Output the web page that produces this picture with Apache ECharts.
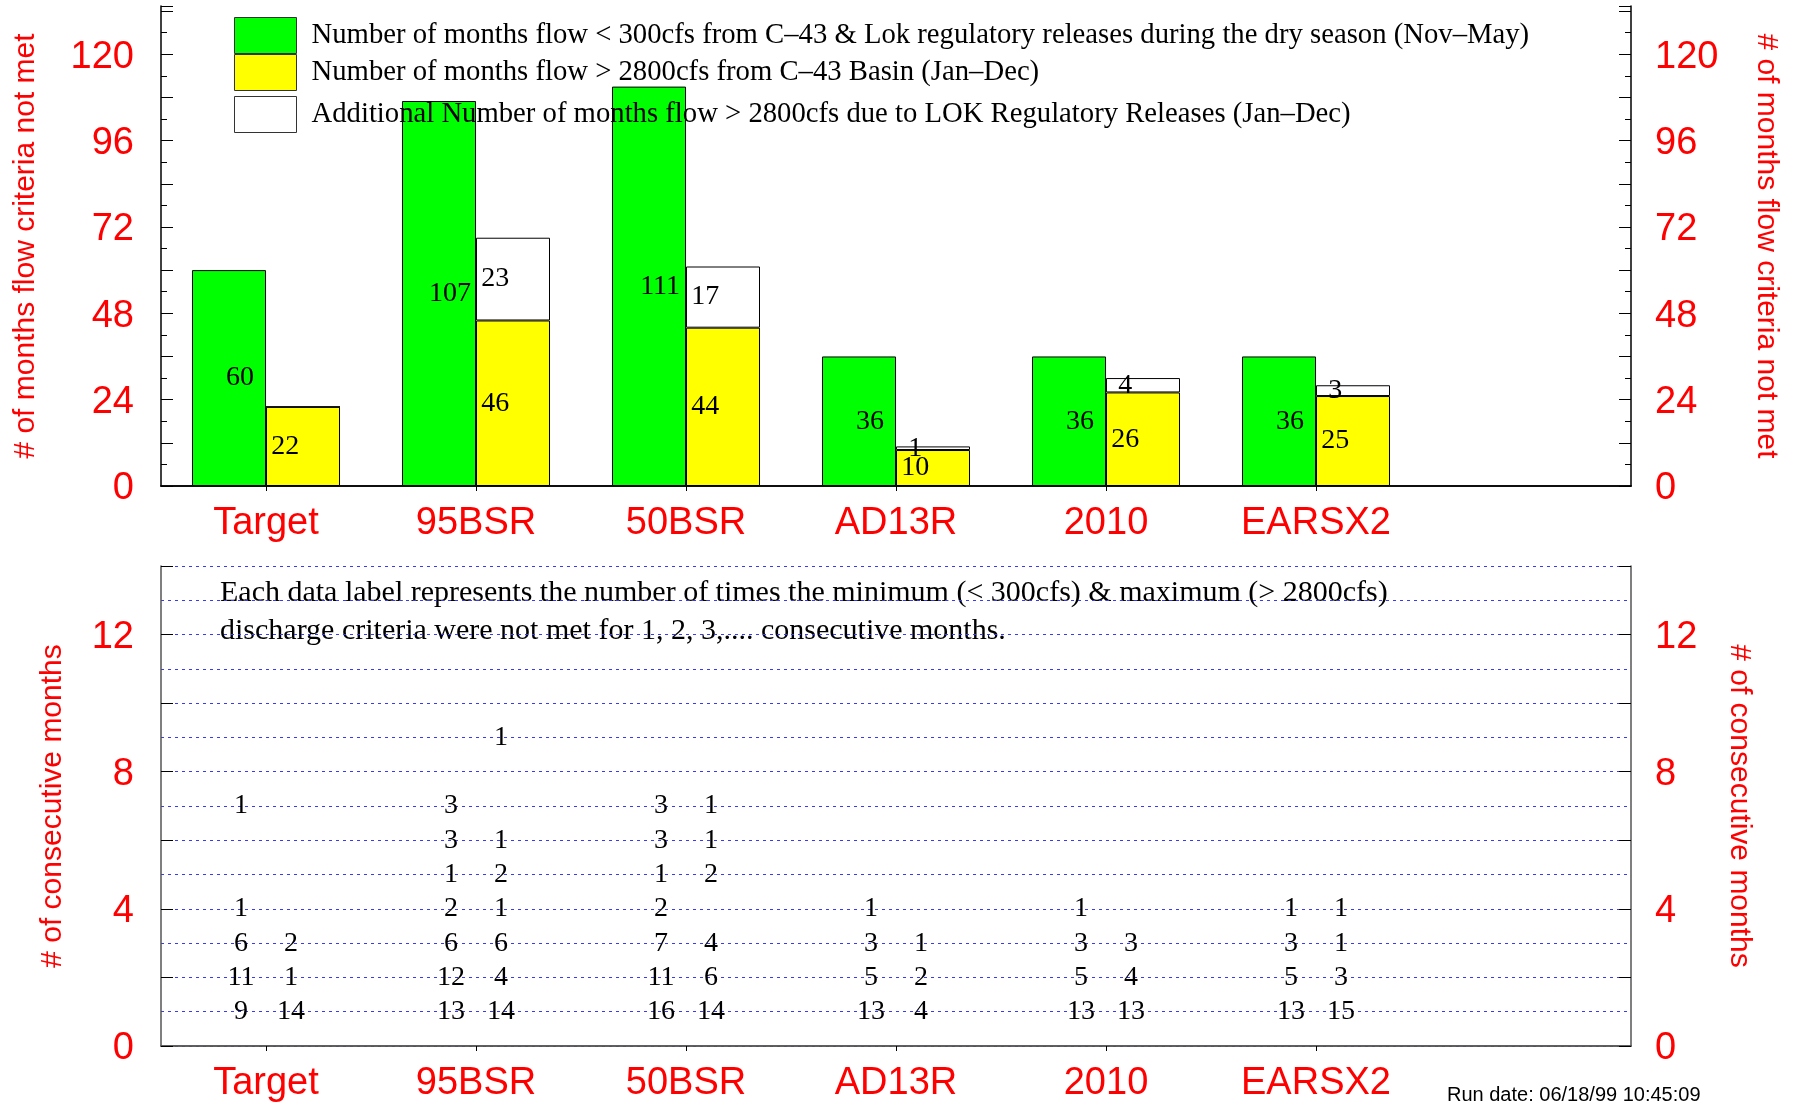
<!DOCTYPE html>
<html>
<head>
<meta charset="utf-8">
<title>Flow criteria not met</title>
<script src="https://cdn.jsdelivr.net/npm/echarts@6/dist/echarts.min.js"></script>
<style>
  html, body { margin: 0; padding: 0; background: #fff; }
  #chart { width: 1794px; height: 1102px; }
</style>
</head>
<body>
<div id="chart"></div>
<script>
// scenarios (last slot is empty on purpose)
const categories = ['Target', '95BSR', '50BSR', 'AD13R', '2010', 'EARSX2', ''];

// months flow < 300cfs during dry season
const lowFlowMonths = [60, 107, 111, 36, 36, 36];
// months flow > 2800cfs from C-43 basin
const highFlowBasin = [22, 46, 44, 10, 26, 25];
// additional months > 2800cfs due to LOK releases
const highFlowLok = [0, 23, 17, 1, 4, 3];

// number of runs, index 0 = 1 consecutive month, 1 = 2 months ...
const lowRuns = [
  [9, 11, 6, 1, null, null, 1],
  [13, 12, 6, 2, 1, 3, 3],
  [16, 11, 7, 2, 1, 3, 3],
  [13, 5, 3, 1],
  [13, 5, 3, 1],
  [13, 5, 3, 1]
];
const highRuns = [
  [14, 1, 2],
  [14, 4, 6, 1, 2, 1, null, null, 1],
  [14, 6, 4, null, 2, 1, 1],
  [4, 2, 1],
  [13, 4, 3],
  [15, 3, 1, 1]
];

const legendNames = [
  'Number of months flow < 300cfs from C\u201343 & Lok regulatory releases during the dry season (Nov\u2013May)',
  'Number of months flow > 2800cfs from C\u201343 Basin (Jan\u2013Dec)',
  'Additional Number of months flow > 2800cfs due to LOK Regulatory Releases (Jan\u2013Dec)'
];
const noteLines = [
  'Each data label represents the number of times the minimum (< 300cfs) & maximum (> 2800cfs)',
  'discharge criteria were not met for 1, 2, 3,.... consecutive months.'
];

const SERIF = "'Liberation Serif', 'Times New Roman', serif";
const SANS = "'Liberation Sans', Arial, Helvetica, sans-serif";
const RED = '#ff0000';

const runPoints = (runs) => {
  const out = [];
  runs.forEach((list, i) => {
    list.forEach((v, j) => {
      if (v !== null && v !== undefined) out.push([categories[i], j + 1, v]);
    });
  });
  return out;
};

const chart = echarts.init(document.getElementById('chart'));

const catAxis = (gridIndex, position, lineColor, showLabel) => ({
  gridIndex,
  type: 'category',
  data: categories,
  position,
  axisLine: { show: true, lineStyle: { color: lineColor, width: 1.5 } },
  axisTick: {
    show: true, alignWithLabel: true, inside: position === 'top', length: 5,
    interval: (i, v) => v !== '',
    lineStyle: { color: '#000' }
  },
  axisLabel: {
    show: showLabel, interval: 0, color: RED, fontSize: 38, fontFamily: SANS, margin: 19
  },
  splitLine: { show: false }
});

const valAxis = (gridIndex, position, name, max, interval, labelStep, lineColor, grid) => ({
  gridIndex,
  type: 'value',
  position,
  min: 0,
  max,
  interval,
  name,
  nameLocation: 'middle',
  nameRotate: position === 'right' ? -90 : 90,
  nameGap: gridIndex === 0 ? 120 : 93,
  nameTextStyle: { color: RED, fontSize: 30, fontFamily: SANS },
  axisLine: { show: true, lineStyle: { color: lineColor, width: 1.5 } },
  axisTick: { show: true, inside: true, length: 12, lineStyle: { color: '#000' } },
  minorTick: { show: gridIndex === 0, splitNumber: 2, length: 6, lineStyle: { color: '#000' } },
  axisLabel: {
    color: RED, fontSize: 38, fontFamily: SANS,
    margin: position === 'right' ? 24 : 27,
    verticalAlign: 'top',
    lineHeight: 6,
    formatter: (v) => (Math.abs(v % labelStep) < 1e-6 ? String(v) : '')
  },
  splitLine: { show: grid, lineStyle: { color: '#3a3af5', type: [3, 4], width: 1 } },
  minorSplitLine: { show: grid, lineStyle: { color: '#3a3af5', type: [3, 4], width: 1 } }
});

// labels sit at a fixed spot across the bar, centred on the segment
const barLabel = (xPos) => ({
  show: true,
  position: [xPos, '50%'],
  align: 'center',
  verticalAlign: 'middle',
  color: '#000',
  fontSize: 28,
  fontFamily: SERIF,
  textBorderWidth: 0,
  formatter: (p) => (p.value ? String(p.value) : '')
});

const runLabel = (dx) => ({
  show: true,
  position: 'inside',
  offset: [dx, 0],
  color: '#000',
  opacity: 1,
  fontSize: 28,
  fontFamily: SERIF,
  textBorderWidth: 0,
  formatter: (p) => String(p.value[2])
});

const legendBase = {
  orient: 'vertical',
  left: 234,
  itemWidth: 62,
  itemHeight: 36,
  itemGap: 0,
  padding: 0,
  icon: 'rect',
  selectedMode: false,
  itemStyle: { borderWidth: 1, borderColor: '#333' },
  textStyle: { color: '#000', fontSize: 28.7, fontFamily: SERIF, padding: [0, 0, 0, 10] }
};

chart.setOption({
  animation: false,
  backgroundColor: '#fff',
  grid: [
    { left: 161, right: 163, top: 6, height: 480, outerBoundsMode: 'none' },
    { left: 161, right: 163, top: 566, height: 480, outerBoundsMode: 'none' }
  ],
  legend: [
    Object.assign({}, legendBase, { top: 17, data: [legendNames[0], legendNames[1]] }),
    Object.assign({}, legendBase, { top: 96, data: [legendNames[2]] })
  ],
  xAxis: [
    catAxis(0, 'bottom', '#000', true),
    catAxis(0, 'top', '#000', false),
    catAxis(1, 'bottom', '#555', true),
    catAxis(1, 'top', '#555', false)
  ],
  yAxis: [
    valAxis(0, 'left', '# of months flow criteria not met', 133.4, 12, 24, '#000', false),
    valAxis(0, 'right', '# of months flow criteria not met', 133.4, 12, 24, '#000', false),
    valAxis(1, 'left', '# of consecutive months', 14, 2, 4, '#555', true),
    valAxis(1, 'right', '# of consecutive months', 14, 2, 4, '#555', false)
  ],
  graphic: [
    {
      type: 'text', left: 220, top: 574, silent: true,
      style: { text: noteLines.join('\n'), fontSize: 30, fontFamily: SERIF, lineHeight: 38, fill: '#000' }
    },
    {
      type: 'text', left: 1447, top: 1085, silent: true,
      style: { text: 'Run date: 06/18/99 10:45:09', fontSize: 20, fontFamily: SANS, fill: '#000' }
    }
  ],
  series: [
    {
      name: legendNames[0], type: 'bar', xAxisIndex: 0, yAxisIndex: 0, stack: 'low',
      data: lowFlowMonths, barWidth: 74, barGap: '0%',
      itemStyle: { color: '#00ff00', borderColor: '#000', borderWidth: 1 },
      label: barLabel('65%')
    },
    {
      name: legendNames[1], type: 'bar', xAxisIndex: 0, yAxisIndex: 0, stack: 'high',
      data: highFlowBasin, barWidth: 74, barGap: '0%',
      itemStyle: { color: '#ffff00', borderColor: '#000', borderWidth: 1 },
      label: barLabel('26%')
    },
    {
      name: legendNames[2], type: 'bar', xAxisIndex: 0, yAxisIndex: 0, stack: 'high',
      data: highFlowLok, barWidth: 74, barGap: '0%',
      itemStyle: { color: '#ffffff', borderColor: '#000', borderWidth: 1 },
      label: barLabel('26%')
    },
    {
      type: 'scatter', xAxisIndex: 2, yAxisIndex: 2, silent: true,
      data: runPoints(lowRuns), symbolSize: 0,
      itemStyle: { color: '#000' },
      label: runLabel(-25)
    },
    {
      type: 'scatter', xAxisIndex: 2, yAxisIndex: 2, silent: true,
      data: runPoints(highRuns), symbolSize: 0,
      itemStyle: { color: '#000' },
      label: runLabel(25)
    }
  ]
});

window.addEventListener('resize', () => chart.resize());
</script>
</body>
</html>
